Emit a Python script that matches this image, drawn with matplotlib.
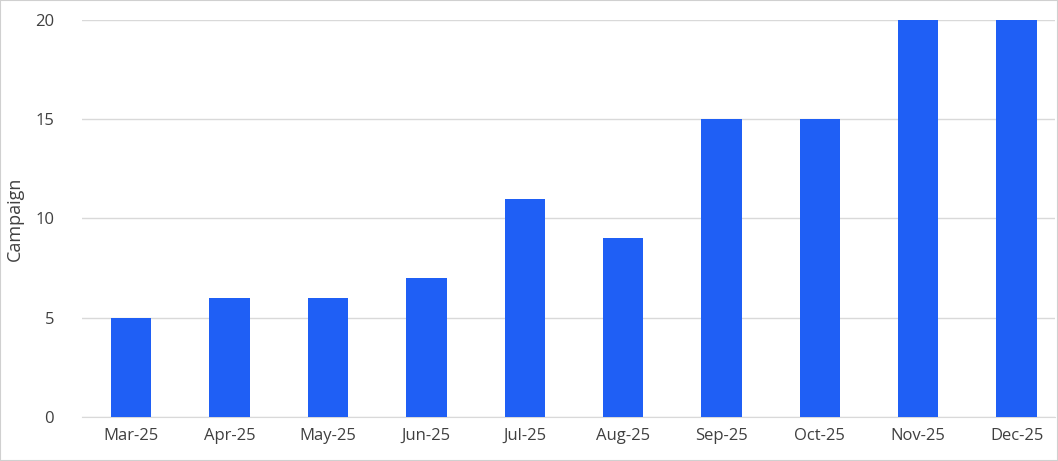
import matplotlib.pyplot as plt
from matplotlib.patches import Rectangle

months = ["Mar-25", "Apr-25", "May-25", "Jun-25", "Jul-25",
          "Aug-25", "Sep-25", "Oct-25", "Nov-25", "Dec-25"]
campaigns = [5, 6, 6, 7, 11, 9, 15, 15, 20, 20]

plt.rcParams['font.family'] = ['Open Sans', 'DejaVu Sans']

fig = plt.figure(figsize=(10.58, 4.61), dpi=100)
ax = fig.add_axes([82 / 1058, 1 - 417 / 461, 973 / 1058, 397 / 461])

x = list(range(len(months)))
ax.bar(x, campaigns, width=0.41, color='#1f5ff5', zorder=3)
ax.set_xlim(-0.5, 9.39)
ax.set_ylim(0, 20)
ax.set_yticks([0, 5, 10, 15, 20])
ax.set_xticks(x)
ax.set_xticklabels(months)
ax.grid(axis='y', color='#d9d9d9', linewidth=1, zorder=0)
for s in ['top', 'right', 'left']:
    ax.spines[s].set_visible(False)
ax.spines['bottom'].set_color('#d9d9d9')
ax.tick_params(length=0, labelsize=12, colors='#404040', pad=8)
ax.tick_params(axis='y', pad=20)
ax.set_ylabel('Campaign', fontsize=13, color='#404040', labelpad=8)

fig.patches.append(Rectangle((0, 0), 1, 1, transform=fig.transFigure,
                             fill=False, edgecolor='#d0d0d0', linewidth=1.5))
fig.savefig('out.png')
